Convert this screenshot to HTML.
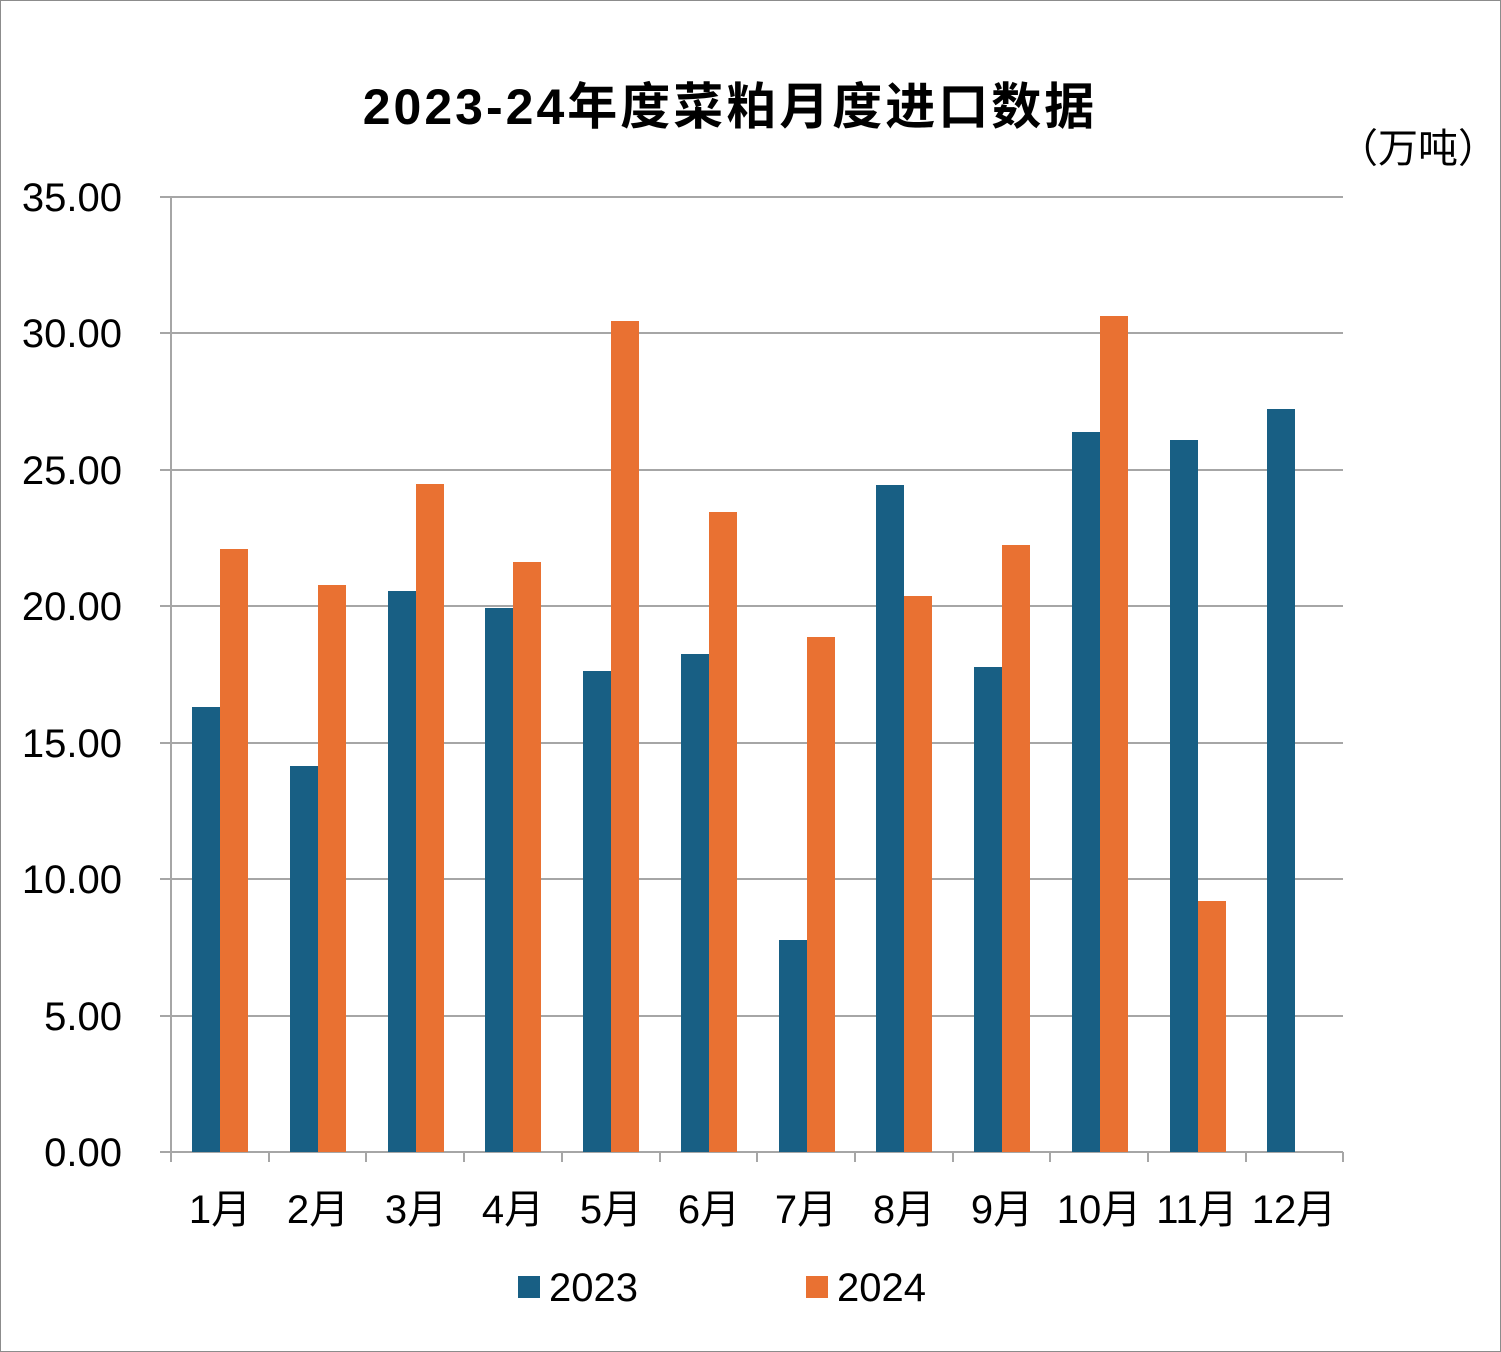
<!DOCTYPE html>
<html><head><meta charset="utf-8"><style>
body{margin:0;background:#fff}
svg{display:block}
text{font-family:"Liberation Sans","Noto Sans CJK SC",sans-serif;fill:#000}
</style></head><body>
<svg width="1501" height="1352" viewBox="0 0 1501 1352">
<rect x="0.5" y="0.5" width="1500" height="1351" fill="#fff" stroke="#8c8c8c"/>
<text x="730" y="124" font-size="50" font-weight="bold" text-anchor="middle" letter-spacing="3">2023-24年度菜粕月度进口数据</text>
<text x="1418" y="162" font-size="40" text-anchor="middle" style="font-family:'Noto Sans CJK SC',sans-serif">（万吨）</text>
<g stroke="#a6a6a6" stroke-width="2">
<line x1="160" y1="197" x2="1343" y2="197"/>
<line x1="160" y1="333" x2="1343" y2="333"/>
<line x1="160" y1="470" x2="1343" y2="470"/>
<line x1="160" y1="606" x2="1343" y2="606"/>
<line x1="160" y1="743" x2="1343" y2="743"/>
<line x1="160" y1="879" x2="1343" y2="879"/>
<line x1="160" y1="1016" x2="1343" y2="1016"/>
<line x1="160" y1="1152" x2="1343" y2="1152"/>
<line x1="171" y1="197" x2="171" y2="1162"/>
<line x1="269" y1="1152" x2="269" y2="1162"/><line x1="366" y1="1152" x2="366" y2="1162"/>
<line x1="464" y1="1152" x2="464" y2="1162"/><line x1="562" y1="1152" x2="562" y2="1162"/>
<line x1="660" y1="1152" x2="660" y2="1162"/><line x1="757" y1="1152" x2="757" y2="1162"/>
<line x1="855" y1="1152" x2="855" y2="1162"/><line x1="953" y1="1152" x2="953" y2="1162"/>
<line x1="1050" y1="1152" x2="1050" y2="1162"/><line x1="1148" y1="1152" x2="1148" y2="1162"/>
<line x1="1246" y1="1152" x2="1246" y2="1162"/><line x1="1343" y1="1152" x2="1343" y2="1162"/>
</g>
<g font-size="40" text-anchor="end">
<text x="122" y="211">35.00</text><text x="122" y="347">30.00</text><text x="122" y="484">25.00</text>
<text x="122" y="620">20.00</text><text x="122" y="757">15.00</text><text x="122" y="893">10.00</text>
<text x="122" y="1030">5.00</text><text x="122" y="1166">0.00</text>
</g>
<g fill="#185f84">
<rect x="192" y="707" width="28" height="445"/><rect x="290" y="766" width="28" height="386"/>
<rect x="388" y="591" width="28" height="561"/><rect x="485" y="608" width="28" height="544"/>
<rect x="583" y="671" width="28" height="481"/><rect x="681" y="654" width="28" height="498"/>
<rect x="779" y="940" width="28" height="212"/><rect x="876" y="485" width="28" height="667"/>
<rect x="974" y="667" width="28" height="485"/><rect x="1072" y="432" width="28" height="720"/>
<rect x="1170" y="440" width="28" height="712"/><rect x="1267" y="409" width="28" height="743"/>
</g>
<g fill="#e97132">
<rect x="220" y="549" width="28" height="603"/><rect x="318" y="585" width="28" height="567"/>
<rect x="416" y="484" width="28" height="668"/><rect x="513" y="562" width="28" height="590"/>
<rect x="611" y="321" width="28" height="831"/><rect x="709" y="512" width="28" height="640"/>
<rect x="807" y="637" width="28" height="515"/><rect x="904" y="596" width="28" height="556"/>
<rect x="1002" y="545" width="28" height="607"/><rect x="1100" y="316" width="28" height="836"/>
<rect x="1198" y="901" width="28" height="251"/>
</g>
<g font-size="40" text-anchor="middle">
<text x="220" y="1223">1月</text><text x="318" y="1223">2月</text><text x="416" y="1223">3月</text>
<text x="513" y="1223">4月</text><text x="611" y="1223">5月</text><text x="709" y="1223">6月</text>
<text x="806" y="1223">7月</text><text x="904" y="1223">8月</text><text x="1002" y="1223">9月</text>
<text x="1099" y="1223">10月</text><text x="1197" y="1223">11月</text><text x="1294" y="1223">12月</text>
</g>
<rect x="518" y="1276" width="22" height="22" fill="#185f84"/>
<text x="549" y="1301" font-size="40">2023</text>
<rect x="806" y="1276" width="22" height="22" fill="#e97132"/>
<text x="837" y="1301" font-size="40">2024</text>
</svg>
</body></html>
